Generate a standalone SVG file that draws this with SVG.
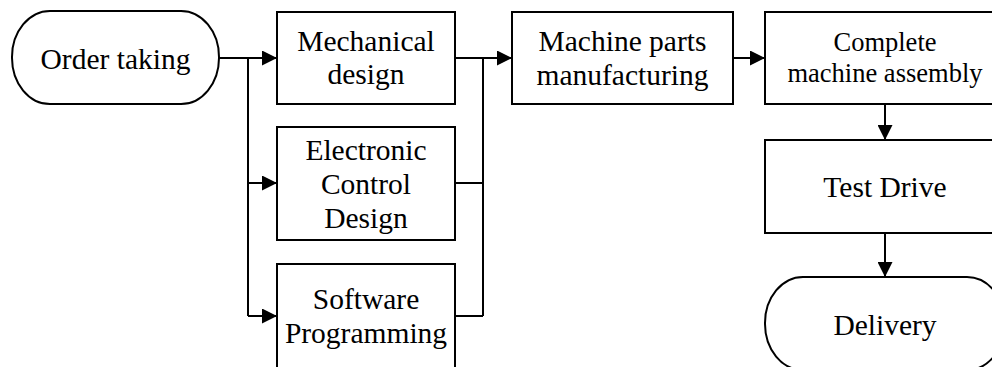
<svg xmlns="http://www.w3.org/2000/svg" width="992" height="367" viewBox="0 0 992 367">
<defs>
<marker id="ah" markerUnits="userSpaceOnUse" markerWidth="15" markerHeight="15" refX="15" refY="7.5" orient="auto">
<path d="M0,0 L15,7.5 L0,15 z" fill="#000"/>
</marker>
<style>
.box{fill:#fff;stroke:#000;stroke-width:2}
.t{font-family:"Liberation Serif","Times New Roman",serif;font-size:29.5px;fill:#000;text-anchor:middle}
.s{font-size:26.5px}
.c{fill:none;stroke:#000;stroke-width:2}
</style>
</defs>
<rect width="992" height="367" fill="#fff"/>
<g id="connectors">
<path class="c" d="M219,58 H248 V316"/>
<path class="c" d="M248,58 H277" marker-end="url(#ah)"/>
<path class="c" d="M248,183 H277" marker-end="url(#ah)"/>
<path class="c" d="M248,316 H277" marker-end="url(#ah)"/>
<path class="c" d="M455,58 H483 M455,183 H483 M455,316 H483 M483,58 V316"/>
<path class="c" d="M483,58 H512" marker-end="url(#ah)"/>
<path class="c" d="M733,58 H765" marker-end="url(#ah)"/>
<path class="c" d="M885,104 V140" marker-end="url(#ah)"/>
<path class="c" d="M885,233 V277" marker-end="url(#ah)"/>
</g>
<g id="order">
<rect class="box" x="12" y="11" width="207" height="93" rx="38" ry="46"/>
<text class="t" x="115.5" y="69">Order taking</text>
</g>
<g id="mechanical">
<rect class="box" x="277" y="12" width="178" height="92"/>
<text class="t" x="366" y="51">Mechanical</text>
<text class="t" x="366" y="84">design</text>
</g>
<g id="electronic">
<rect class="box" x="277" y="127" width="178" height="113"/>
<text class="t" x="366" y="160">Electronic</text>
<text class="t" x="366" y="194">Control</text>
<text class="t" x="366" y="228">Design</text>
</g>
<g id="software">
<rect class="box" x="277" y="264" width="178" height="113"/>
<text class="t" x="366" y="309">Software</text>
<text class="t" x="366" y="343">Programming</text>
</g>
<g id="parts">
<rect class="box" x="512" y="12" width="221" height="92"/>
<text class="t" x="622.5" y="51">Machine parts</text>
<text class="t" x="622.5" y="85">manufacturing</text>
</g>
<g id="assembly">
<rect class="box" x="765" y="12" width="240" height="92"/>
<text class="t s" x="885" y="51">Complete</text>
<text class="t s" x="885" y="82">machine assembly</text>
</g>
<g id="test">
<rect class="box" x="765" y="140" width="240" height="93"/>
<text class="t" x="885" y="197">Test Drive</text>
</g>
<g id="delivery">
<rect class="box" x="765" y="277" width="240" height="93" rx="38" ry="46"/>
<text class="t" x="885" y="335">Delivery</text>
</g>
</svg>
